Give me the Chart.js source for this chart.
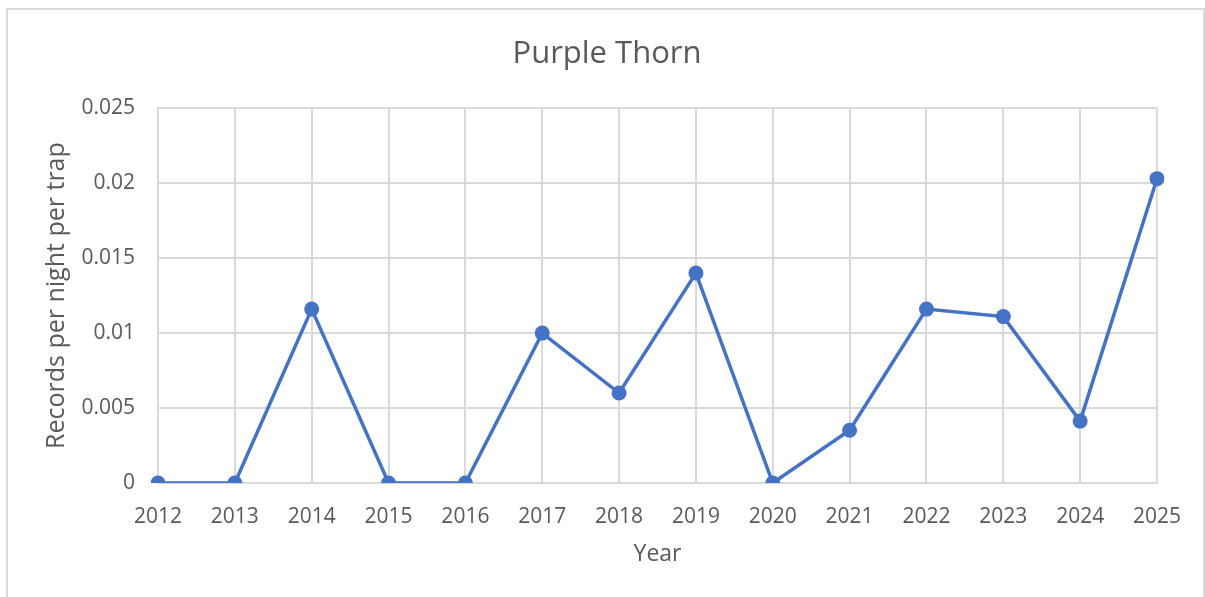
<!DOCTYPE html>
<html>
<head>
<meta charset="utf-8">
<script src="https://cdn.jsdelivr.net/npm/chart.js@4/dist/chart.umd.min.js"></script>
<style>
  html, body { margin: 0; padding: 0; background: #fff; overflow: hidden; }
  #frame { position: absolute; left: 6px; top: 8px; width: 1195px; height: 700px; border: 2px solid #d9d9d9; }
  #chart { position: absolute; left: 0; top: 0; }
</style>
</head>
<body>
<div id="frame"></div>
<canvas id="chart" width="1205" height="597"></canvas>
<script>
const years = ['2012', '2013', '2014', '2015', '2016', '2017', '2018', '2019', '2020', '2021', '2022', '2023', '2024', '2025'];
const recordsPerNight = [0, 0, 0.0116, 0, 0, 0.0100, 0.0060, 0.0140, 0, 0.00352, 0.0116, 0.0111, 0.00413, 0.0203];
const yTickLabels = ['0', '0.005', '0.01', '0.015', '0.02', '0.025'];

const textColor = '#595959';
const gridColor = '#d9d9d9';
const blue = '#4472C4';
const fontFamily = '"Open Sans", "Noto Sans", sans-serif';

const ctx = document.getElementById('chart').getContext('2d');
new Chart(ctx, {
    type: 'line',
    data: {
        labels: years,
        datasets: [{
            label: 'Purple Thorn',
            data: recordsPerNight,
            borderColor: blue,
            backgroundColor: blue,
            borderWidth: 3.5,
            pointRadius: 7.5,
            pointHoverRadius: 7.5,
            pointBackgroundColor: blue,
            pointBorderWidth: 0,
            tension: 0
        }]
    },
    options: {
        responsive: false,
        animation: false,
        layout: { padding: { left: 9, right: 0, top: 0, bottom: 0 } },
        plugins: {
            legend: { display: false },
            tooltip: { enabled: false },
            title: {
                display: true,
                text: 'Purple Thorn',
                color: textColor,
                font: { family: fontFamily, size: 31, weight: 'normal' },
                padding: { top: 36, bottom: 35 }
            }
        },
        scales: {
            x: {
                offset: false,
                grid: { color: gridColor, lineWidth: 2, drawTicks: false },
                border: { color: gridColor, width: 2 },
                ticks: {
                    color: textColor,
                    font: { family: fontFamily, size: 21 },
                    padding: 21,
                    maxRotation: 0,
                    autoSkip: false
                },
                title: {
                    display: true,
                    text: 'Year',
                    color: textColor,
                    font: { family: fontFamily, size: 23 },
                    padding: { top: 0, bottom: 29 }
                },
                afterFit: function(scale) { scale.height = 114; }
            },
            y: {
                min: 0,
                max: 0.025,
                grid: { color: gridColor, lineWidth: 2, drawTicks: false },
                border: { color: gridColor, width: 2 },
                ticks: {
                    stepSize: 0.005,
                    color: textColor,
                    font: { family: fontFamily, size: 21 },
                    padding: 23,
                    callback: function(value, index) { return yTickLabels[index]; }
                },
                title: {
                    display: true,
                    text: 'Records per night per trap',
                    color: textColor,
                    font: { family: fontFamily, size: 25 },
                    padding: { top: 33, bottom: 0 }
                },
                afterFit: function(scale) { scale.width = 149; }
            },
            yRight: {
                position: 'right',
                display: true,
                grid: { display: false, drawTicks: false },
                border: { display: false },
                ticks: { display: false },
                afterFit: function(scale) { scale.width = 48; }
            }
        }
    }
});
</script>
</body>
</html>
